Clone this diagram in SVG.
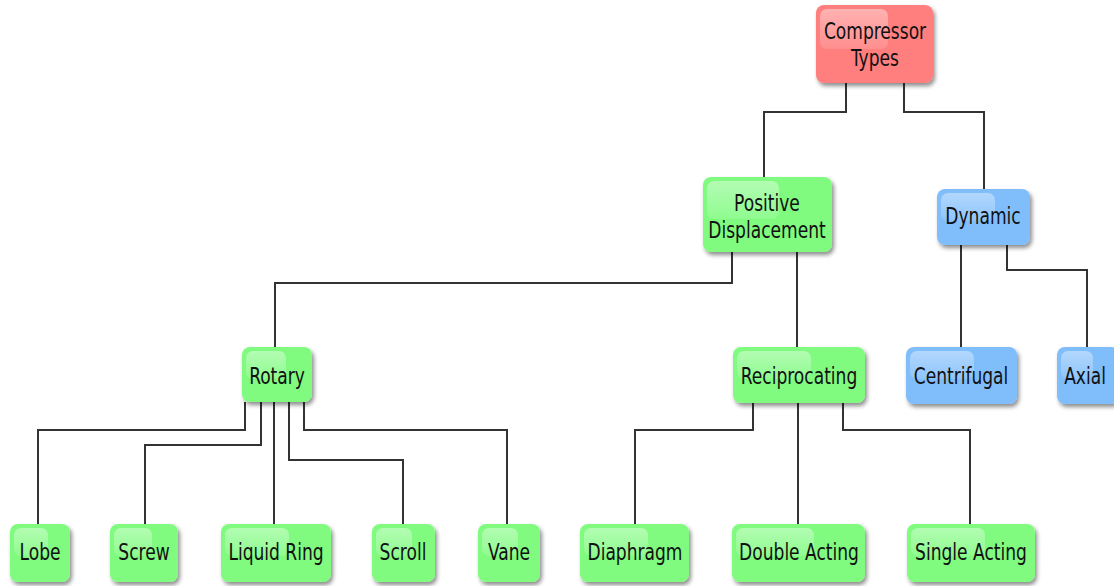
<svg xmlns="http://www.w3.org/2000/svg" width="1114" height="586" viewBox="0 0 1114 586">
<defs>
<filter id="sh" x="-20%" y="-20%" width="150%" height="150%">
<feDropShadow dx="2" dy="3" stdDeviation="2" flood-color="#000" flood-opacity="0.45"/>
</filter>
<linearGradient id="hl" x1="0" y1="0" x2="0" y2="1">
<stop offset="0" stop-color="#fff" stop-opacity="0.4"/>
<stop offset="1" stop-color="#fff" stop-opacity="0.12"/>
</linearGradient>
</defs>
<style>
.r{fill:#ff7f7f;filter:url(#sh)}
.g{fill:#80fb80;filter:url(#sh)}
.b{fill:#80bdfb;filter:url(#sh)}
.h{fill:url(#hl)}
text{font-family:"DejaVu Sans Condensed","DejaVu Sans",sans-serif;font-stretch:condensed;font-size:19px;fill:#111;text-anchor:middle}
.c{fill:none;stroke:#333;stroke-width:2}
</style>
<g id="connectors">
<polyline class="c" points="846,83 846,112 764,112 764,177"/>
<polyline class="c" points="904,83 904,112 984,112 984,189"/>
<polyline class="c" points="732,252 732,283 275,283 275,347"/>
<polyline class="c" points="797,252 797,347"/>
<polyline class="c" points="961,245 961,347"/>
<polyline class="c" points="1007,245 1007,270 1087,270 1087,347"/>
<polyline class="c" points="245,402 245,430 38,430 38,524"/>
<polyline class="c" points="261,402 261,445 145,445 145,524"/>
<polyline class="c" points="274,402 274,524"/>
<polyline class="c" points="289,402 289,460 403,460 403,524"/>
<polyline class="c" points="304,402 304,430 507,430 507,524"/>
<polyline class="c" points="753,403 753,430 635,430 635,524"/>
<polyline class="c" points="798,403 798,524"/>
<polyline class="c" points="843,403 843,430 970,430 970,524"/>
</g>
<g id="compressor-types"><rect class="r" x="816" y="5" width="117" height="78" rx="8"/><rect class="h" x="820" y="9" width="68" height="40" rx="7"/><text transform="translate(875,39) scale(1,1.2)">Compressor</text><text transform="translate(875,66) scale(1,1.2)">Types</text></g>
<g id="positive-displacement"><rect class="g" x="703" y="177" width="129" height="75" rx="8"/><rect class="h" x="707" y="181" width="72" height="38" rx="7"/><text transform="translate(767,211) scale(1,1.2)">Positive</text><text transform="translate(767,238) scale(1,1.2)">Displacement</text></g>
<g id="dynamic"><rect class="b" x="937" y="189" width="93" height="56" rx="8"/><rect class="h" x="941" y="193" width="54" height="28" rx="7"/><text transform="translate(983,224) scale(1,1.2)">Dynamic</text></g>
<g id="rotary"><rect class="g" x="242" y="347" width="70" height="55" rx="8"/><rect class="h" x="246" y="351" width="40" height="28" rx="7"/><text transform="translate(277,384) scale(1,1.2)">Rotary</text></g>
<g id="reciprocating"><rect class="g" x="733" y="347" width="132" height="56" rx="8"/><rect class="h" x="737" y="351" width="74" height="28" rx="7"/><text transform="translate(799,384) scale(1,1.2)">Reciprocating</text></g>
<g id="centrifugal"><rect class="b" x="906" y="347" width="111" height="57" rx="8"/><rect class="h" x="910" y="351" width="64" height="28" rx="7"/><text transform="translate(961,384) scale(1,1.2)">Centrifugal</text></g>
<g id="axial"><rect class="b" x="1057" y="347" width="62" height="57" rx="8"/><rect class="h" x="1061" y="351" width="32" height="28" rx="7"/><text transform="translate(1085,384) scale(1,1.2)">Axial</text></g>
<g id="lobe"><rect class="g" x="10" y="524" width="60" height="58" rx="8"/><rect class="h" x="14" y="528" width="34" height="28" rx="7"/><text transform="translate(40,560) scale(1,1.2)">Lobe</text></g>
<g id="screw"><rect class="g" x="110" y="524" width="68" height="58" rx="8"/><rect class="h" x="114" y="528" width="38" height="28" rx="7"/><text transform="translate(144,560) scale(1,1.2)">Screw</text></g>
<g id="liquid-ring"><rect class="g" x="221" y="524" width="110" height="58" rx="8"/><rect class="h" x="225" y="528" width="64" height="28" rx="7"/><text transform="translate(276,560) scale(1,1.2)">Liquid Ring</text></g>
<g id="scroll"><rect class="g" x="372" y="524" width="63" height="58" rx="8"/><rect class="h" x="376" y="528" width="36" height="28" rx="7"/><text transform="translate(403,560) scale(1,1.2)">Scroll</text></g>
<g id="vane"><rect class="g" x="478" y="524" width="62" height="58" rx="8"/><rect class="h" x="482" y="528" width="36" height="28" rx="7"/><text transform="translate(509,560) scale(1,1.2)">Vane</text></g>
<g id="diaphragm"><rect class="g" x="580" y="524" width="109" height="58" rx="8"/><rect class="h" x="584" y="528" width="64" height="28" rx="7"/><text transform="translate(635,560) scale(1,1.2)">Diaphragm</text></g>
<g id="double-acting"><rect class="g" x="732" y="524" width="133" height="58" rx="8"/><rect class="h" x="736" y="528" width="78" height="28" rx="7"/><text transform="translate(799,560) scale(1,1.2)">Double Acting</text></g>
<g id="single-acting"><rect class="g" x="907" y="524" width="128" height="58" rx="8"/><rect class="h" x="911" y="528" width="74" height="28" rx="7"/><text transform="translate(971,560) scale(1,1.2)">Single Acting</text></g>
</svg>
